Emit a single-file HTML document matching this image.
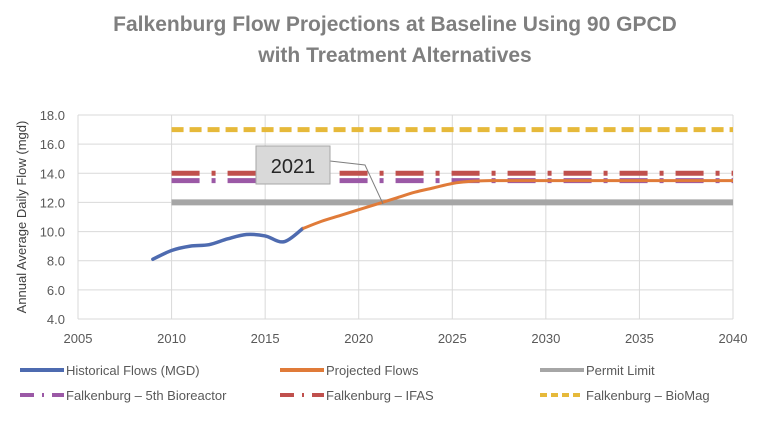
<!DOCTYPE html>
<html><head><meta charset="utf-8"><style>
body{margin:0;background:#fff;width:765px;height:416px;overflow:hidden;font-family:"Liberation Sans",sans-serif}
</style></head><body>
<svg id="c" width="765" height="416"></svg>
<script>
const years=[2005,2010,2015,2020,2025,2030,2035,2040];
const yTicks=[4,6,8,10,12,14,16,18];
const histYears=[2009,2010,2011,2012,2013,2014,2015,2016,2017];
const histVals=[8.1,8.7,9.0,9.1,9.5,9.8,9.7,9.3,10.2];
const projYears=[2017,2018,2019,2020,2021,2022,2023,2024,2025,2026,2027,2030,2035,2040];
const projVals=[10.2,10.7,11.1,11.5,11.9,12.3,12.7,13.0,13.3,13.45,13.5,13.5,13.5,13.5];
const permitVal=12, bioreactorVal=13.5, ifasVal=14, biomagVal=17;
const refStart=2010, refEnd=2040;
const NS="http://www.w3.org/2000/svg", svg=document.getElementById('c');
const X=v=>78+(v-2005)*(655/35), Y=v=>319-(v-4)*(204/14);
function el(t,a,p){const e=document.createElementNS(NS,t);for(const k in a)e.setAttribute(k,a[k]);(p||svg).appendChild(e);return e;}
function txt(x,y,s,a){const e=el('text',Object.assign({x:x,y:y},a));e.textContent=s;return e;}
let t=txt(395,31,"Falkenburg  Flow Projections at Baseline Using 90 GPCD",{"text-anchor":"middle","font-size":"21","font-weight":"bold",fill:"#7f7f7f"});

t=txt(395,62,"with Treatment Alternatives",{"text-anchor":"middle","font-size":"21","font-weight":"bold",fill:"#7f7f7f"});

yTicks.forEach(v=>{el('line',{x1:78,x2:733,y1:Y(v),y2:Y(v),stroke:"#d9d9d9","stroke-width":1});
const l=txt(65,Y(v)+5,v.toFixed(1),{"text-anchor":"end","font-size":"13",fill:"#595959"});});
years.forEach(v=>{el('line',{x1:X(v),x2:X(v),y1:Y(18),y2:Y(4),stroke:"#d9d9d9","stroke-width":1});
const l=txt(X(v),343,v,{"text-anchor":"middle","font-size":"13",fill:"#595959"});});
t=txt(0,0,"Annual Average Daily Flow (mgd)",{"text-anchor":"middle","font-size":"13",fill:"#404040",transform:"translate(26,217) rotate(-90)"});

function hline(v,color,w,dash,name){const l=el('line',{x1:X(refStart),x2:X(refEnd),y1:Y(v),y2:Y(v),stroke:color,"stroke-width":w,"stroke-dasharray":dash});}
hline(permitVal,"#a6a6a6",6,"","permit-limit-line");
hline(bioreactorVal,"#9b59a6",5,"28,12,4,12","bioreactor-line");
hline(ifasVal,"#c0504d",5,"28,12,4,12","ifas-line");
hline(biomagVal,"#e6b93a",5,"12,6","biomag-line");
function smooth(xs,vs){const P=xs.map((x,i)=>[X(x),Y(vs[i])]);let d="M"+P[0][0]+","+P[0][1];
for(let i=0;i<P.length-1;i++){const p0=P[i-1]||P[i],p1=P[i],p2=P[i+1],p3=P[i+2]||p2;
const c1=[p1[0]+(p2[0]-p0[0])/6,p1[1]+(p2[1]-p0[1])/6],c2=[p2[0]-(p3[0]-p1[0])/6,p2[1]-(p3[1]-p1[1])/6];
d+="C"+c1.join(",")+" "+c2.join(",")+" "+p2.join(",");}return d;}
let p=el('path',{d:smooth(histYears,histVals),fill:"none",stroke:"#4e6bb0","stroke-width":3.5,"stroke-linejoin":"round","stroke-linecap":"round"});

p=el('path',{d:smooth(projYears,projVals),fill:"none",stroke:"#e07b39","stroke-width":3,"stroke-linejoin":"round"});

el('polyline',{points:"330,161 365,165 "+X(2021.3)+","+Y(11.9),fill:"none",stroke:"#7f7f7f","stroke-width":1});
const g=el('g',{});
el('rect',{x:256,y:146,width:74,height:38,fill:"#d9d9d9",stroke:"#a6a6a6","stroke-width":1},g);
txt(293,173,"2021",{"text-anchor":"middle","font-size":"20",fill:"#262626"},g);
const leg=[["Historical Flows (MGD)","#4e6bb0","",20,368],["Projected Flows","#e07b39","",280,368],["Permit Limit","#a6a6a6","",540,368],
["Falkenburg – 5th Bioreactor","#9b59a6","14,8,2,8",20,393],["Falkenburg – IFAS","#c0504d","14,8,2,8",280,393],["Falkenburg – BioMag","#e6b93a","7,4",540,393]];
leg.forEach(l=>{const lg=el('g',{},svg);
el('line',{x1:l[3],x2:l[3]+44,y1:l[4]+2,y2:l[4]+2,stroke:l[1],"stroke-width":4,"stroke-dasharray":l[2]},lg);
txt(l[3]+46,l[4]+7,l[0],{"font-size":"13",fill:"#595959"},lg);});
</script>
</body></html>
